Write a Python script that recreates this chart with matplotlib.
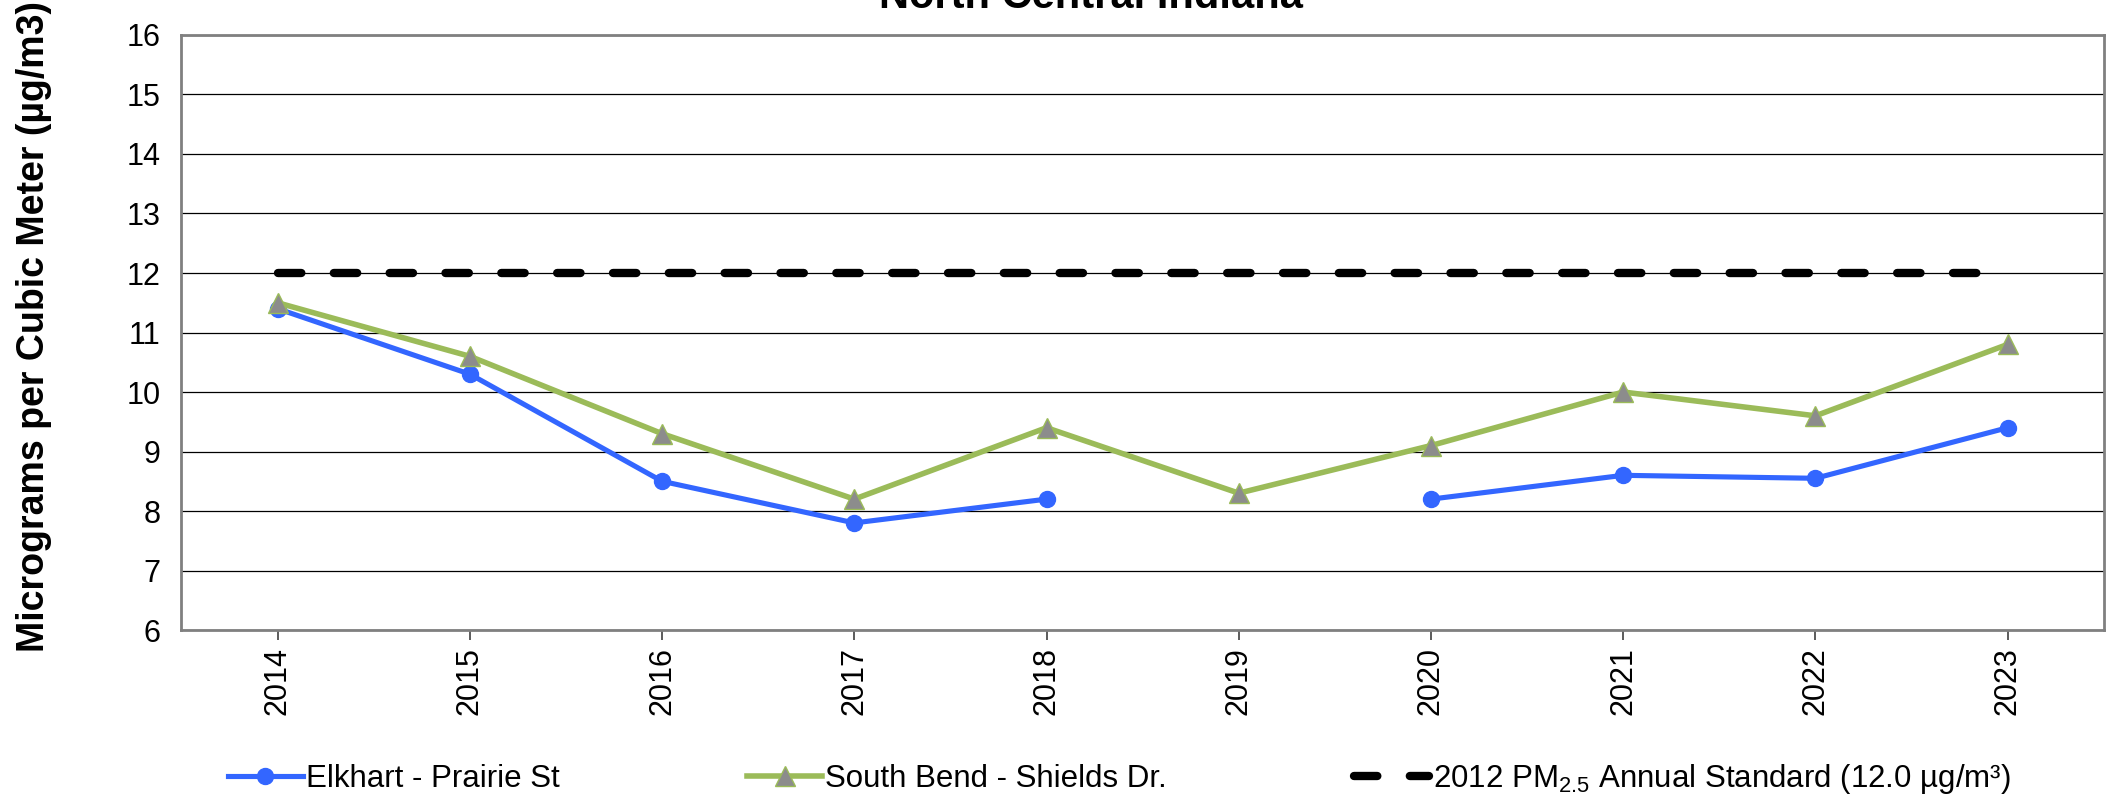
import numpy as np
import matplotlib
matplotlib.use('Agg')
import matplotlib.pyplot as plt

plt.rcParams['font.family'] = ['Liberation Sans', 'DejaVu Sans']
plt.rcParams['mathtext.fontset'] = 'custom'
plt.rcParams['mathtext.rm'] = 'Liberation Sans'

# data
years = ['2014', '2015', '2016', '2017', '2018', '2019', '2020', '2021', '2022', '2023']
elkhart = [11.4, 10.3, 8.5, 7.8, 8.2, np.nan, 8.2, 8.6, 8.55, 9.4]
south_bend = [11.5, 10.6, 9.3, 8.2, 9.4, 8.3, 9.1, 10.0, 9.6, 10.8]
standard = [12.0] * len(years)

title = 'North Central Indiana'
ylabel = 'Micrograms per Cubic Meter (µg/m3)'
labels = ['Elkhart - Prairie St', 'South Bend - Shields Dr.',
          '2012 PM$_{\\mathregular{2.5}}$ Annual Standard (12.0 µg/m³)']

x = np.arange(len(years))

fig = plt.figure(figsize=(21.08, 7.95), dpi=100)
ax = fig.add_axes([0.0861, 0.2075, 0.9119, 0.7485])

# horizontal gridlines
ax.set_ylim(6, 16)
ax.set_yticks(range(6, 17))
ax.grid(axis='y', color='black', linewidth=0.9)
ax.set_axisbelow(True)

l1, = ax.plot(x, elkhart, color='#3366FF', linewidth=3.7, marker='o', markersize=11.5,
              markerfacecolor='#3366FF', markeredgecolor='#3366FF', zorder=3)
l2, = ax.plot(x, south_bend, color='#9BBB59', linewidth=4, marker='^', markersize=15,
              markerfacecolor='#8C8C8C', markeredgecolor='#9BBB59', markeredgewidth=1, zorder=3)
l3, = ax.plot(x, standard, color='black', linewidth=6, linestyle=(0, (2.8, 3.9)),
              dash_capstyle='round', zorder=3)

ax.set_xlim(-0.5, len(years) - 0.5)
ax.set_xticks(x)
ax.set_xticklabels(years, rotation=90, fontsize=22)
ax.tick_params(axis='x', length=7, width=1.2, color='#404040', pad=5.5)
ax.tick_params(axis='y', length=0, pad=15, labelsize=22)

for s in ax.spines.values():
    s.set_color('#808080')
    s.set_linewidth(2)

fig.text(34 / 2108, 1 - 326 / 795, ylabel, rotation=90, ha='center', va='center',
         fontsize=27, fontweight='bold')
fig.text(1091 / 2108, 1 - 8 / 795, title, ha='center', va='baseline',
         fontsize=30, fontweight='bold')

fig.legend([l1, l2, l3], labels, loc='center left', bbox_to_anchor=(0.108, 1 - 779 / 795),
           ncol=3, frameon=False, fontsize=22.5, handlelength=2.4, handletextpad=0.1,
           columnspacing=6.0, borderaxespad=0, borderpad=0)

plt.savefig('out.png', dpi=100)
